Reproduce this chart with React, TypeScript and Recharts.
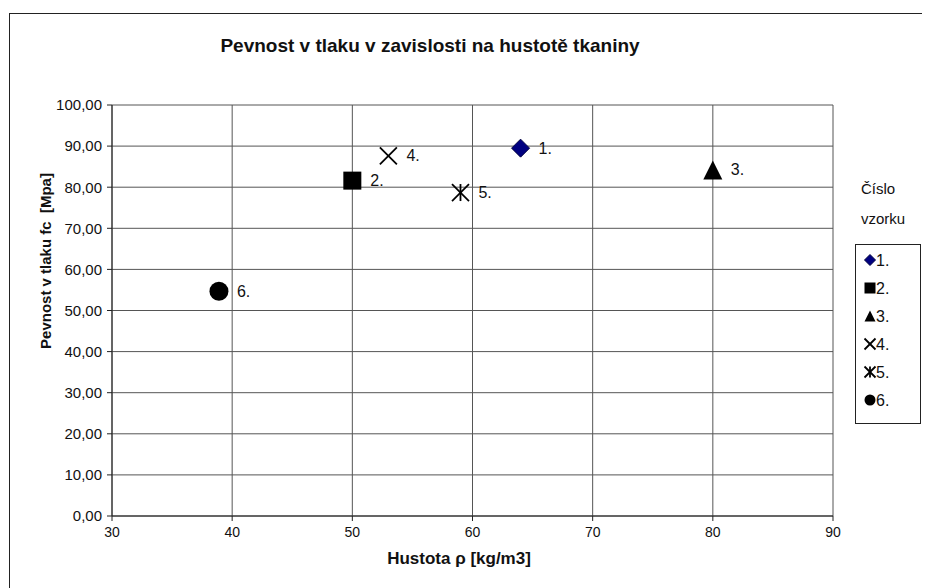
import React from 'react';
import { ScatterChart, Scatter, XAxis, YAxis, CartesianGrid } from 'recharts';

const sampleNames = ['1.', '2.', '3.', '4.', '5.', '6.'];
const densities = [64, 50, 80, 53, 59, 38.9];
const strengths = [89.5, 81.6, 84.2, 87.6, 78.7, 54.7];
const markerKinds = ['diamond', 'square', 'triangle', 'cross', 'star', 'circle'];
const xTicks = [30, 40, 50, 60, 70, 80, 90];
const yTicks = [0, 10, 20, 30, 40, 50, 60, 70, 80, 90, 100];

const FONT = '"Liberation Sans", Arial, sans-serif';

function Marker({ kind, cx, cy, s }: { kind: string; cx: number; cy: number; s: number }) {
  const h = s / 2;
  switch (kind) {
    case 'diamond':
      return <polygon points={`${cx},${cy - h} ${cx + h},${cy} ${cx},${cy + h} ${cx - h},${cy}`} fill="#000080" stroke="#000040" strokeWidth={1} />;
    case 'square':
      return <rect x={cx - h} y={cy - h} width={s} height={s} fill="#000" />;
    case 'triangle':
      return <polygon points={`${cx},${cy - h} ${cx + h},${cy + h} ${cx - h},${cy + h}`} fill="#000" />;
    case 'cross':
      return (
        <g stroke="#000" strokeWidth={1.8}>
          <line x1={cx - h} y1={cy - h} x2={cx + h} y2={cy + h} />
          <line x1={cx - h} y1={cy + h} x2={cx + h} y2={cy - h} />
        </g>
      );
    case 'star':
      return (
        <g stroke="#000" strokeWidth={1.8}>
          <line x1={cx - h} y1={cy - h} x2={cx + h} y2={cy + h} />
          <line x1={cx - h} y1={cy + h} x2={cx + h} y2={cy - h} />
          <line x1={cx} y1={cy - h} x2={cx} y2={cy + h} />
        </g>
      );
    default:
      return <circle cx={cx} cy={cy} r={h} fill="#000" />;
  }
}

const series = sampleNames.map((name, i) => ({
  name,
  kind: markerKinds[i],
  data: [{ x: densities[i], y: strengths[i], name }],
}));

const sizes: Record<string, number> = { diamond: 18, square: 18, triangle: 19, cross: 17, star: 17, circle: 19 };

export default function App() {
  return (
    <div style={{ position: 'fixed', left: 0, top: 0, width: 926, height: 588, background: '#fff', fontFamily: FONT, overflow: 'hidden' }}>
      <div style={{ position: 'absolute', left: 9, top: 13, width: 912, height: 600, borderTop: '1px solid #222', borderLeft: '1px solid #222' }} />
      <ScatterChart width={926} height={588} margin={{ top: 105, right: 93, bottom: 42, left: 52 }}>
        <CartesianGrid stroke="#555" strokeWidth={1} />
        <XAxis
          type="number"
          dataKey="x"
          domain={[30, 90]}
          ticks={xTicks}
          height={30}
          tickSize={5}
          tickMargin={6}
          stroke="#222"
          tick={{ fill: '#111', fontSize: 14, fontFamily: FONT }}
          allowDataOverflow
        />
        <YAxis
          type="number"
          dataKey="y"
          domain={[0, 100]}
          ticks={yTicks}
          width={60}
          tickSize={5}
          tickMargin={5}
          stroke="#222"
          tickFormatter={(v: number) => v.toFixed(2).replace('.', ',')}
          tick={{ fill: '#111', fontSize: 15, fontFamily: FONT }}
          allowDataOverflow
        />
        {series.map((s) => (
          <Scatter
            key={s.name}
            name={s.name}
            data={s.data}
            isAnimationActive={false}
            shape={(p: any) => (
              <g>
                <Marker kind={s.kind} cx={p.cx} cy={p.cy} s={sizes[s.kind]} />
                <text x={p.cx + 18} y={p.cy} dominantBaseline="central" fontSize={16} fontFamily={FONT} fill="#111">
                  {p.payload.name}
                </text>
              </g>
            )}
          />
        ))}
      </ScatterChart>
      <div style={{ position: 'absolute', left: 130, width: 600, top: 35, textAlign: 'center', fontSize: 19, fontWeight: 'bold', color: '#111', whiteSpace: 'nowrap' }}>
        Pevnost v tlaku v zavislosti na hustotě tkaniny
      </div>
      <div style={{ position: 'absolute', left: 309, width: 300, top: 549, textAlign: 'center', fontSize: 17, fontWeight: 'bold', color: '#111', whiteSpace: 'nowrap' }}>
        Hustota ρ [kg/m3]
      </div>
      <div style={{ position: 'absolute', left: 46 - 150, top: 261 - 10, width: 300, height: 20, textAlign: 'center', fontSize: 15, fontWeight: 'bold', color: '#111', transform: 'rotate(-90deg)', lineHeight: '20px', whiteSpace: 'nowrap' }}>
        Pevnost v tlaku fc&nbsp;&nbsp;[Mpa]
      </div>
      <div style={{ position: 'absolute', left: 861, top: 174, fontSize: 15, lineHeight: '30px', color: '#111' }}>
        Číslo<br />vzorku
      </div>
      <div style={{ position: 'absolute', left: 855, top: 244, width: 66, height: 180, border: '1px solid #222', boxSizing: 'border-box' }}>
        <svg width={64} height={178} style={{ position: 'absolute', left: 0, top: 0 }}>
          {series.map((s, i) => (
            <g key={s.name}>
              <Marker kind={s.kind} cx={14} cy={15 + i * 28} s={11} />
              <text x={20} y={15 + i * 28} dominantBaseline="central" fontSize={16} fontFamily={FONT} fill="#111">
                {s.name}
              </text>
            </g>
          ))}
        </svg>
      </div>
    </div>
  );
}
